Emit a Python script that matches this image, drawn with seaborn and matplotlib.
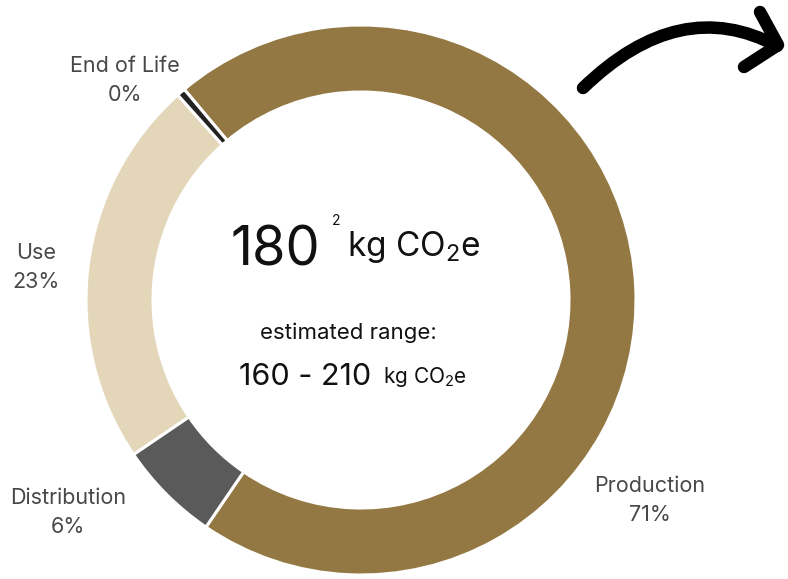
import numpy as np
import matplotlib
matplotlib.use("Agg")
import matplotlib.pyplot as plt
from matplotlib.path import Path
from matplotlib.patches import PathPatch
import seaborn as sns

# data
stages = ["Production", "Distribution", "Use", "End of Life"]
shares = [71, 6, 23, 0.5]
share_labels = ["71%", "6%", "23%", "0%"]
colors = ["#937843", "#5a5a5a", "#e3d6b9", "#222222"]
total = 180
range_low, range_high = 160, 210

sns.set_style("white")
plt.rcParams['font.family'] = ['Inter', 'DejaVu Sans']

W, H = 788, 579
fig = plt.figure(figsize=(W / 100, H / 100), dpi=100)
ax = fig.add_axes([0, 0, 1, 1])

def py(y):
    # pixel row (from top) -> data y
    return H - y

cx, cy, R, ring = 361, py(300), 275, 67
ax.pie(shares, colors=colors, startangle=130, counterclock=False,
       center=(cx, cy), radius=R,
       wedgeprops=dict(width=ring, edgecolor="white", linewidth=2.2))
ax.set_xlim(0, W)
ax.set_ylim(0, H)
ax.set_aspect("equal")
ax.axis("off")

# segment labels
label_pos = {"Production": (650, 486), "Distribution": (68, 498),
             "Use": (36, 253), "End of Life": (125, 66)}
for stage, lab in zip(stages, share_labels):
    x, y = label_pos[stage]
    ax.text(x, py(y), stage, ha="center", va="center", fontsize=15.5, color="#484848")
    ax.text(x, py(y + 29), lab, ha="center", va="center", fontsize=15.5, color="#484848")

# centre text
ax.text(320, py(265), f"{total}", ha="right", va="baseline", fontsize=39, color="#111111")
ax.text(336, py(225), "2", ha="center", va="baseline", fontsize=10, color="#111111")
ax.text(347, py(256), r"kg CO$\mathregular{_2}$e", ha="left", va="baseline",
        fontsize=24, color="#111111")
ax.text(348, py(339), "estimated range:", ha="center", va="baseline",
        fontsize=16, color="#111111")
ax.text(305, py(385), f"{range_low} - {range_high}", ha="center", va="baseline",
        fontsize=22, color="#111111")
ax.text(383, py(383), r"kg CO$\mathregular{_2}$e", ha="left", va="baseline",
        fontsize=15, color="#111111")

# curved arrow decoration
p0, c, p2 = (583, 88), (680, -6), (777, 46)
curve = Path([(p0[0], py(p0[1])), (c[0], py(c[1])), (p2[0], py(p2[1]))],
             [Path.MOVETO, Path.CURVE3, Path.CURVE3])
ax.add_patch(PathPatch(curve, facecolor="none", edgecolor="black", lw=9,
                       capstyle="round", joinstyle="round"))
ax.plot([760, 778, 744], [py(12), py(45), py(67)], color="black", lw=9,
        solid_capstyle="round", solid_joinstyle="round")

fig.savefig("out.png", dpi=100)
